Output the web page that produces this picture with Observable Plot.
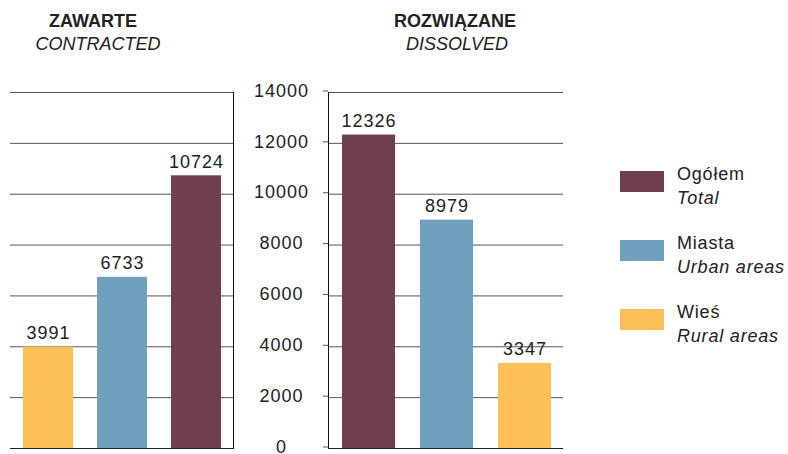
<!DOCTYPE html>
<html>
<head>
<meta charset="utf-8">
<script src="https://cdn.jsdelivr.net/npm/d3@7"></script>
<script src="https://cdn.jsdelivr.net/npm/@observablehq/plot@0.6"></script>
<style>
  html, body { margin: 0; padding: 0; background: #fff; }
  #root { position: relative; width: 788px; height: 454px; overflow: hidden; font-family: "Liberation Sans", Arial, sans-serif; }
  #root > svg, #root > figure { position: absolute; top: 0; margin: 0; }
</style>
</head>
<body>
<div id="root"></div>
<script>
// ---- data ----
const leftCats = ["Wieś", "Miasta", "Ogółem"];
const leftValues = [3991, 6733, 10724];
const rightCats = ["Ogółem", "Miasta", "Wieś"];
const rightValues = [12326, 8979, 3347];
const yTicks = [0, 2000, 4000, 6000, 8000, 10000, 12000, 14000];
const legendPl = ["Ogółem", "Miasta", "Wieś"];
const legendEn = ["Total", "Urban areas", "Rural areas"];
const colorRange = ["#6f3f4f", "#70a0be", "#fdbf57"];
const leftTitle = ["ZAWARTE", "CONTRACTED"];
const rightTitle = ["ROZWIĄZANE", "DISSOLVED"];

const leftData = leftCats.map((c, i) => ({cat: c, value: leftValues[i]}));
const rightData = rightCats.map((c, i) => ({cat: c, value: rightValues[i]}));

const root = document.getElementById("root");
const font = "'Liberation Sans', Arial, sans-serif";
const baseStyle = {fontFamily: font, fontSize: "18px", background: "transparent", overflow: "visible"};
const gridTicks = yTicks.filter(t => t > 0);

const left = Plot.plot({
  width: 240, height: 454,
  marginLeft: 10, marginRight: 7, marginTop: 92, marginBottom: 6,
  style: baseStyle,
  x: {domain: leftCats, paddingInner: 0.33, paddingOuter: 0.16, axis: null},
  y: {domain: [0, 14000], axis: null},
  color: {domain: legendPl, range: colorRange},
  marks: [
    Plot.gridY(gridTicks, {stroke: "#555", strokeOpacity: 1}),
    Plot.barY(leftData, {x: "cat", y: "value", fill: "cat"}),
    Plot.ruleY([0], {stroke: "#222"}),
    Plot.frame({anchor: "right", stroke: "#111"}),
    Plot.text(leftData, {x: "cat", y: "value", text: d => String(d.value), lineAnchor: "bottom", dy: -8, fontSize: 18, fill: "#222"})
  ]
});
left.style.left = "0px";
root.appendChild(left);

const right = Plot.plot({
  width: 330, height: 454,
  marginLeft: 88, marginRight: 7, marginTop: 92, marginBottom: 6,
  style: baseStyle,
  x: {domain: rightCats, paddingInner: 0.323, paddingOuter: 0.149, align: 0.55, axis: null},
  y: {domain: [0, 14000], axis: null},
  color: {domain: legendPl, range: colorRange},
  marks: [
    Plot.gridY(gridTicks, {stroke: "#555", strokeOpacity: 1}),
    Plot.axisY({ticks: yTicks, anchor: "left", tickSize: 5, tickPadding: 42, textAnchor: "middle", tickFormat: d => String(d), fontSize: 18, stroke: "#555", fill: "#222", label: null, dy: -1.5}),
    Plot.barY(rightData, {x: "cat", y: "value", fill: "cat"}),
    Plot.ruleY([0], {stroke: "#222"}),
    Plot.frame({anchor: "left", stroke: "#111"}),
    Plot.text(rightData, {x: "cat", y: "value", text: d => String(d.value), lineAnchor: "bottom", dy: -8, fontSize: 18, fill: "#222"})
  ]
});
right.style.left = "240px";
root.appendChild(right);

// letter spacing for numeric texts to mimic the wide digits
d3.select(root).selectAll("svg text").style("letter-spacing", "1px");

// ---- titles and legend overlay ----
const ov = d3.select(root).append("svg")
  .attr("width", 788).attr("height", 454)
  .style("left", "0px").style("pointer-events", "none")
  .style("font-family", font).style("font-size", "18px").attr("fill", "#222");

ov.append("text").attr("x", 93).attr("y", 27).attr("text-anchor", "middle").attr("font-weight", "bold").text(leftTitle[0]);
ov.append("text").attr("x", 98).attr("y", 50).attr("text-anchor", "middle").attr("font-style", "italic").text(leftTitle[1]);
ov.append("text").attr("x", 455).attr("y", 27).attr("text-anchor", "middle").attr("font-weight", "bold").text(rightTitle[0]);
ov.append("text").attr("x", 457).attr("y", 50).attr("text-anchor", "middle").attr("font-style", "italic").text(rightTitle[1]);

const lg = ov.selectAll("g.lg").data(legendPl).join("g")
  .attr("transform", (d, i) => `translate(620,${171 + i * 69})`);
lg.append("rect").attr("width", 44).attr("height", 21).attr("fill", (d, i) => colorRange[i]);
lg.append("text").attr("x", 57).attr("y", 9).style("letter-spacing", "0.8px").text(d => d);
lg.append("text").attr("x", 57).attr("y", 33).attr("font-style", "italic").style("letter-spacing", "0.8px").text((d, i) => legendEn[i]);
</script>
</body>
</html>
